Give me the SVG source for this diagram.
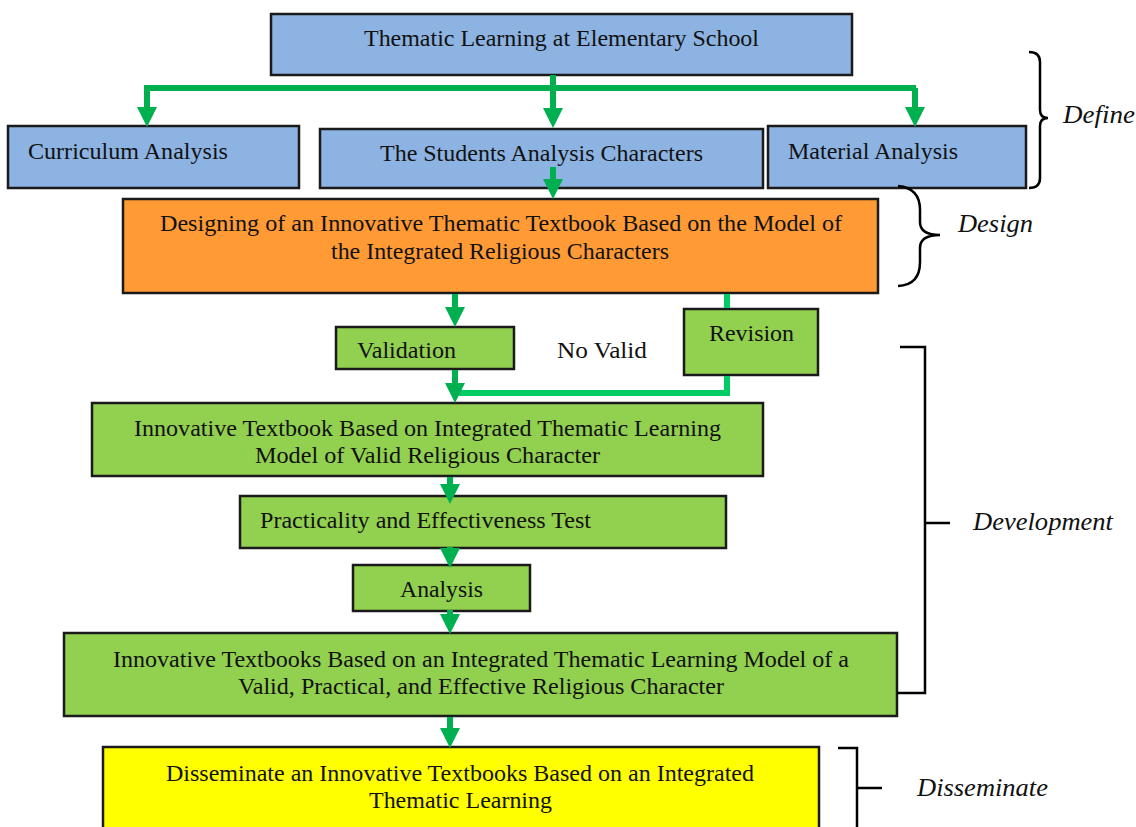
<svg xmlns="http://www.w3.org/2000/svg" width="1136" height="827" viewBox="0 0 1136 827" font-family="Liberation Serif, Times New Roman, serif">
<defs>
<style>
.box{stroke:#1a1a1a;stroke-width:2.5}
.blue{fill:#8DB3E2}
.orange{fill:#FF9A35}
.green{fill:#92D050}
.yellow{fill:#FFFF00}
text{font-size:24px;fill:#111}
.it{font-style:italic;font-size:25px}
.con{fill:none;stroke:#00B050;stroke-width:6}
.ret{fill:none;stroke:#00CC66;stroke-width:6}
.br{fill:none;stroke:#000;stroke-width:2.5}
</style>
<marker id="ah" markerUnits="userSpaceOnUse" markerWidth="20" markerHeight="20" viewBox="0 0 20 20" refX="0" refY="10" orient="auto">
<path d="M0,0 L20,10 L0,20 z" fill="#00B050"/>
</marker>
</defs>
<rect width="1136" height="827" fill="#fff"/>

<g id="top"><rect class="box blue" x="271" y="14" width="581" height="61"/>
<text x="364" y="46" textLength="395" lengthAdjust="spacingAndGlyphs">Thematic Learning at Elementary School</text></g>

<g id="curriculum"><rect class="box blue" x="8" y="126" width="291" height="62"/>
<text x="28" y="159" textLength="200" lengthAdjust="spacingAndGlyphs">Curriculum Analysis</text></g>

<g id="students"><rect class="box blue" x="320" y="129" width="443" height="59"/>
<text x="380" y="161" textLength="323" lengthAdjust="spacingAndGlyphs">The Students Analysis Characters</text></g>

<g id="material"><rect class="box blue" x="768" y="126" width="258" height="62"/>
<text x="788" y="159" textLength="170" lengthAdjust="spacingAndGlyphs">Material Analysis</text></g>

<g id="design"><rect class="box orange" x="123" y="199" width="755" height="94"/>
<text x="160" y="231" textLength="682" lengthAdjust="spacingAndGlyphs">Designing of an Innovative Thematic Textbook Based on the Model of</text>
<text x="331" y="259" textLength="338" lengthAdjust="spacingAndGlyphs">the Integrated Religious Characters</text></g>

<g id="validation"><rect class="box green" x="336" y="327" width="178" height="42"/>
<text x="357" y="358" textLength="99" lengthAdjust="spacingAndGlyphs">Validation</text></g>

<g id="novalid"><text x="557" y="358" textLength="90" lengthAdjust="spacingAndGlyphs">No Valid</text></g>

<g id="revision"><rect class="box green" x="684" y="309" width="134" height="66"/>
<text x="709" y="341" textLength="85" lengthAdjust="spacingAndGlyphs">Revision</text></g>

<g id="innovative-valid"><rect class="box green" x="92" y="403" width="671" height="73"/>
<text x="134" y="436" textLength="587" lengthAdjust="spacingAndGlyphs">Innovative Textbook Based on Integrated Thematic Learning</text>
<text x="255" y="463" textLength="345" lengthAdjust="spacingAndGlyphs">Model of Valid Religious Character</text></g>

<g id="practicality"><rect class="box green" x="240" y="496" width="486" height="52"/>
<text x="260" y="528" textLength="331" lengthAdjust="spacingAndGlyphs">Practicality and Effectiveness Test</text></g>

<g id="analysis"><rect class="box green" x="353" y="565" width="177" height="46"/>
<text x="400" y="597" textLength="83" lengthAdjust="spacingAndGlyphs">Analysis</text></g>

<g id="innovative-final"><rect class="box green" x="64" y="633" width="833" height="83"/>
<text x="113" y="667" textLength="736" lengthAdjust="spacingAndGlyphs">Innovative Textbooks Based on an Integrated Thematic Learning Model of a</text>
<text x="238" y="694" textLength="486" lengthAdjust="spacingAndGlyphs">Valid, Practical, and Effective Religious Character</text></g>

<g id="disseminate-box"><rect class="box yellow" x="103" y="747" width="716" height="90"/>
<text x="166" y="781" textLength="588" lengthAdjust="spacingAndGlyphs">Disseminate an Innovative Textbooks Based on an Integrated</text>
<text x="369" y="808" textLength="183" lengthAdjust="spacingAndGlyphs">Thematic Learning</text></g>

<g id="connectors">
<path class="con" d="M144,88 H916"/>
<path class="con" d="M553,75 V108" marker-end="url(#ah)"/>
<path class="con" d="M147,88 V107" marker-end="url(#ah)"/>
<path class="con" d="M915,88 V107" marker-end="url(#ah)"/>
<path class="con" d="M553,167 V179" marker-end="url(#ah)"/>
<path class="con" d="M455,294 V307" marker-end="url(#ah)"/>
<path class="ret" d="M727,294 V308"/>
<path class="ret" d="M727,376 V393 H452"/>
<path class="con" d="M455,370 V383" marker-end="url(#ah)"/>
<path class="con" d="M450,477 V484" marker-end="url(#ah)"/>
<path class="con" d="M450,547 V548" marker-end="url(#ah)"/>
<path class="con" d="M450,610 V614" marker-end="url(#ah)"/>
<path class="con" d="M450,717 V728" marker-end="url(#ah)"/>
</g>

<g id="phase-define">
<path class="br" d="M1029,52 Q1040,52 1040,62 V110 Q1040,118 1048,118 Q1040,118 1040,126 V178 Q1040,188 1029,188"/>
<text class="it" x="1063" y="123" textLength="72" lengthAdjust="spacingAndGlyphs">Define</text></g>

<g id="phase-design">
<path class="br" d="M898,186 Q920,188 920,210 V222 Q920,235 940,235 Q920,235 920,248 V262 Q920,285 898,286"/>
<text class="it" x="958" y="232" textLength="75" lengthAdjust="spacingAndGlyphs">Design</text></g>

<g id="phase-development">
<path class="br" d="M900,347 H925 V693 H897 M925,523 H950"/>
<text class="it" x="973" y="530" textLength="140" lengthAdjust="spacingAndGlyphs">Development</text></g>

<g id="phase-disseminate">
<path class="br" d="M838,748 H857 V827 M857,788 H882"/>
<text class="it" x="917" y="796" textLength="131" lengthAdjust="spacingAndGlyphs">Disseminate</text></g>
</svg>
